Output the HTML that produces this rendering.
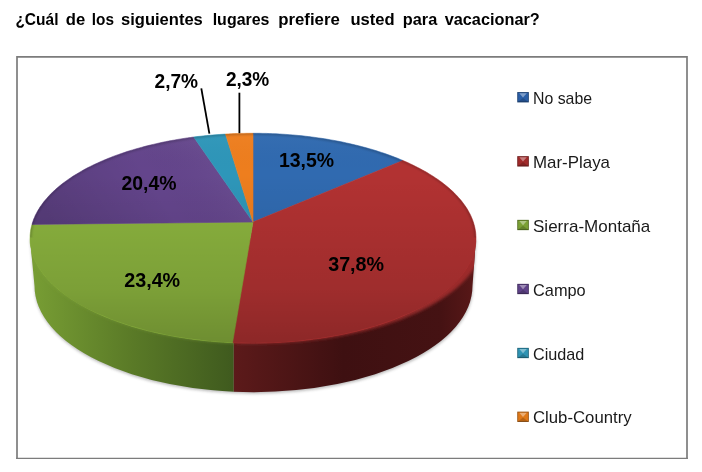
<!DOCTYPE html>
<html><head><meta charset="utf-8"><title>Chart</title>
<style>html,body{margin:0;padding:0;background:#fff}body{width:702px;height:472px;position:relative;overflow:hidden}</style></head>
<body>
<svg width="702" height="472" viewBox="0 0 702 472" style="position:absolute;left:0;top:0">
<defs>
<linearGradient id="gs" x1="30" y1="0" x2="234" y2="0" gradientUnits="userSpaceOnUse">
<stop offset="0" stop-color="#789e34"/><stop offset="0.5" stop-color="#5a7a27"/><stop offset="1" stop-color="#3f5a1e"/></linearGradient>
<linearGradient id="rs" x1="234" y1="0" x2="477" y2="0" gradientUnits="userSpaceOnUse">
<stop offset="0" stop-color="#5c1a1a"/><stop offset="0.45" stop-color="#3e1011"/><stop offset="0.85" stop-color="#451213"/><stop offset="1" stop-color="#5a1818"/></linearGradient>
<linearGradient id="lit" x1="0" y1="132" x2="0" y2="343" gradientUnits="userSpaceOnUse">
<stop offset="0" stop-color="#fff" stop-opacity="0.03"/><stop offset="0.2" stop-color="#000" stop-opacity="0"/><stop offset="0.75" stop-color="#000" stop-opacity="0.11"/><stop offset="1" stop-color="#000" stop-opacity="0.21"/></linearGradient>
<linearGradient id="bg" x1="0" y1="133" x2="0" y2="343" gradientUnits="userSpaceOnUse"><stop offset="0.2" stop-color="#84aa3b"/><stop offset="0.75" stop-color="#789b36"/><stop offset="1" stop-color="#6a882f"/></linearGradient>
<linearGradient id="br" x1="0" y1="133" x2="0" y2="343" gradientUnits="userSpaceOnUse"><stop offset="0.2" stop-color="#a93030"/><stop offset="0.75" stop-color="#9a2b2b"/><stop offset="1" stop-color="#872626"/></linearGradient>
<linearGradient id="pg" x1="210" y1="140" x2="60" y2="235" gradientUnits="userSpaceOnUse"><stop offset="0" stop-color="#fff" stop-opacity="0.04"/><stop offset="0.4" stop-color="#000" stop-opacity="0"/><stop offset="1" stop-color="#000" stop-opacity="0.13"/></linearGradient>
<clipPath id="cg"><rect x="0" y="0" width="233.8" height="472"/></clipPath>
<clipPath id="cr"><rect x="233.8" y="0" width="300" height="472"/></clipPath>
<clipPath id="cs"><path d="M30.0,238.2 L34.5,286.0 A219.0,106.2 0 0 0 472.5,286.0 L476.0,238.2 Z"/></clipPath>
<clipPath id="ct"><path d="M30.0,238.15 A223.0,104.85 0 1 0 476.0,238.15 A223.0,104.85 0 1 0 30.0,238.15 Z"/></clipPath>
<filter id="b1" x="-5%" y="-5%" width="110%" height="110%"><feGaussianBlur stdDeviation="1.1"/></filter>
<filter id="b3" x="-5%" y="-5%" width="110%" height="110%"><feGaussianBlur stdDeviation="1.7"/></filter>
<filter id="b2" x="-5%" y="-5%" width="110%" height="110%"><feGaussianBlur stdDeviation="1.6"/></filter>
<clipPath id="cb"><rect x="0" y="100" width="520" height="137.5"/></clipPath>
</defs>
<path d="M17,458.9 V56.9 H687 V458.9" fill="none" stroke="#7c7c7c" stroke-width="1.7"/>
<path d="M16.15,458.3 H687.85" fill="none" stroke="#7c7c7c" stroke-width="1.3"/>
<g opacity="0.35" filter="url(#b2)" transform="translate(0.3,1.5)"><path d="M30.0,238.2 L34.5,286.0 A219.0,106.2 0 0 0 472.5,286.0 L476.0,238.2 Z" fill="#333"/></g>
<path d="M30.0,238.2 L34.5,286.0 A219.0,106.2 0 0 0 472.5,286.0 L476.0,238.2 Z" fill="url(#gs)" clip-path="url(#cg)"/>
<path d="M30.0,238.2 L34.5,286.0 A219.0,106.2 0 0 0 472.5,286.0 L476.0,238.2 Z" fill="url(#rs)" clip-path="url(#cr)"/>
<g clip-path="url(#cs)">
<g clip-path="url(#cg)"><ellipse cx="256" cy="237.5" rx="228" ry="106.3" fill="url(#bg)" filter="url(#b3)"/></g>
<g clip-path="url(#cr)"><ellipse cx="256" cy="237.5" rx="228" ry="106.3" fill="url(#br)" filter="url(#b3)"/></g>
</g>
<path d="M253.0,222.0 L253.0,133.3 L256.3,133.3 L259.6,133.3 L262.9,133.4 L266.2,133.4 L269.5,133.6 L272.8,133.7 L276.1,133.8 L279.4,134.0 L282.6,134.2 L285.9,134.4 L289.2,134.7 L292.4,134.9 L295.7,135.2 L298.9,135.5 L302.2,135.8 L305.4,136.2 L308.6,136.6 L311.8,137.0 L315.0,137.4 L318.2,137.9 L321.4,138.3 L324.6,138.8 L327.7,139.3 L330.9,139.9 L334.0,140.4 L337.1,141.0 L340.2,141.6 L343.3,142.2 L346.3,142.9 L349.3,143.6 L352.4,144.3 L355.4,145.0 L358.4,145.7 L361.3,146.5 L364.3,147.3 L367.2,148.1 L370.1,148.9 L372.9,149.7 L375.8,150.6 L378.6,151.5 L381.4,152.4 L384.2,153.3 L387.0,154.3 L389.7,155.3 L392.4,156.3 L395.0,157.3 L397.7,158.3 L400.3,159.4 L402.9,160.5 Z" fill="#306ab0" stroke="#306ab0" stroke-width="0.6"/>
<path d="M253.0,222.0 L402.9,160.5 L405.4,161.6 L408.0,162.7 L410.5,163.9 L412.9,165.1 L415.3,166.3 L417.7,167.5 L420.1,168.7 L422.4,170.0 L424.7,171.2 L427.0,172.5 L429.2,173.9 L431.3,175.2 L433.4,176.5 L435.5,177.9 L437.6,179.3 L439.6,180.7 L441.5,182.1 L443.4,183.6 L445.3,185.1 L447.1,186.5 L448.9,188.0 L450.6,189.6 L452.3,191.1 L453.9,192.6 L455.4,194.2 L457.0,195.8 L458.4,197.4 L459.8,199.0 L461.2,200.6 L462.5,202.3 L463.7,203.9 L464.9,205.6 L466.1,207.3 L467.2,209.0 L468.2,210.7 L469.1,212.4 L470.0,214.1 L470.9,215.9 L471.6,217.6 L472.4,219.4 L473.0,221.2 L473.6,223.0 L474.1,224.8 L474.6,226.6 L475.0,228.4 L475.3,230.2 L475.6,232.0 L475.8,233.9 L475.9,235.7 L476.0,237.5 L475.9,239.4 L475.9,241.3 L475.7,243.1 L475.5,245.0 L475.2,246.9 L474.8,248.7 L474.4,250.6 L473.9,252.5 L473.3,254.3 L472.6,256.2 L471.9,258.1 L471.1,260.0 L470.2,261.8 L469.3,263.7 L468.2,265.5 L467.1,267.4 L465.9,269.3 L464.7,271.1 L463.3,272.9 L461.9,274.8 L460.4,276.6 L458.9,278.4 L457.2,280.2 L455.5,282.0 L453.7,283.8 L451.9,285.6 L449.9,287.3 L447.9,289.1 L445.8,290.8 L443.6,292.5 L441.4,294.2 L439.1,295.9 L436.7,297.6 L434.2,299.2 L431.7,300.9 L429.1,302.5 L426.4,304.1 L423.7,305.6 L420.9,307.2 L418.0,308.7 L415.0,310.2 L412.0,311.7 L408.9,313.1 L405.7,314.6 L402.5,316.0 L399.2,317.3 L395.9,318.7 L392.5,320.0 L389.0,321.3 L385.5,322.5 L381.9,323.7 L378.2,324.9 L374.5,326.1 L370.8,327.2 L367.0,328.3 L363.1,329.4 L359.2,330.4 L355.3,331.4 L351.3,332.3 L347.2,333.2 L343.1,334.1 L339.0,334.9 L334.8,335.7 L330.6,336.5 L326.4,337.2 L322.1,337.9 L317.8,338.5 L313.5,339.1 L309.1,339.7 L304.7,340.2 L300.3,340.7 L295.9,341.1 L291.4,341.5 L286.9,341.8 L282.4,342.1 L277.9,342.4 L273.4,342.6 L268.9,342.8 L264.4,342.9 L259.8,343.0 L255.3,343.0 L250.7,343.0 L246.2,343.0 L241.7,342.9 L237.1,342.8 L232.6,342.6 Z" fill="#b23232" stroke="#b23232" stroke-width="0.6"/>
<path d="M253.0,222.0 L232.6,342.6 L228.1,342.4 L223.7,342.1 L219.2,341.8 L214.8,341.5 L210.4,341.1 L206.0,340.7 L201.6,340.2 L197.2,339.7 L192.9,339.2 L188.6,338.6 L184.4,337.9 L180.1,337.3 L175.9,336.6 L171.7,335.8 L167.6,335.0 L163.5,334.2 L159.5,333.4 L155.4,332.5 L151.5,331.5 L147.6,330.6 L143.7,329.6 L139.8,328.5 L136.1,327.5 L132.3,326.4 L128.7,325.2 L125.0,324.0 L121.5,322.8 L118.0,321.6 L114.5,320.3 L111.1,319.1 L107.8,317.7 L104.5,316.4 L101.3,315.0 L98.1,313.6 L95.1,312.2 L92.0,310.7 L89.1,309.3 L86.2,307.8 L83.4,306.2 L80.6,304.7 L78.0,303.1 L75.3,301.5 L72.8,299.9 L70.3,298.3 L67.9,296.6 L65.6,295.0 L63.4,293.3 L61.2,291.6 L59.1,289.9 L57.0,288.2 L55.1,286.4 L53.2,284.7 L51.4,282.9 L49.6,281.2 L48.0,279.4 L46.4,277.6 L44.9,275.8 L43.4,274.0 L42.1,272.1 L40.8,270.3 L39.6,268.5 L38.4,266.7 L37.4,264.8 L36.4,263.0 L35.5,261.1 L34.6,259.3 L33.8,257.4 L33.1,255.6 L32.5,253.7 L31.9,251.9 L31.5,250.0 L31.1,248.1 L30.7,246.3 L30.4,244.4 L30.2,242.6 L30.1,240.8 L30.0,238.9 L30.1,237.1 L30.1,235.3 L30.3,233.4 L30.5,231.6 L30.7,229.8 L31.1,228.0 L31.5,226.2 L32.0,224.4 Z" fill="#8bb33e" stroke="#8bb33e" stroke-width="0.6"/>
<path d="M253.0,222.0 L32.0,224.4 L32.5,222.6 L33.1,220.9 L33.7,219.1 L34.5,217.4 L35.2,215.6 L36.1,213.9 L37.0,212.2 L37.9,210.5 L39.0,208.8 L40.0,207.1 L41.2,205.4 L42.4,203.8 L43.6,202.1 L44.9,200.5 L46.3,198.9 L47.7,197.3 L49.1,195.7 L50.6,194.1 L52.2,192.6 L53.8,191.1 L55.4,189.5 L57.1,188.0 L58.9,186.5 L60.7,185.1 L62.5,183.6 L64.4,182.2 L66.4,180.8 L68.3,179.4 L70.4,178.0 L72.4,176.6 L74.5,175.3 L76.7,174.0 L78.9,172.7 L81.1,171.4 L83.3,170.1 L85.6,168.8 L88.0,167.6 L90.4,166.4 L92.8,165.2 L95.2,164.1 L97.7,162.9 L100.2,161.8 L102.7,160.7 L105.3,159.6 L107.9,158.5 L110.5,157.5 L113.2,156.4 L115.9,155.4 L118.6,154.5 L121.3,153.5 L124.1,152.6 L126.9,151.6 L129.7,150.7 L132.6,149.9 L135.5,149.0 L138.4,148.2 L141.3,147.4 L144.2,146.6 L147.2,145.8 L150.2,145.1 L153.2,144.4 L156.2,143.7 L159.2,143.0 L162.3,142.3 L165.3,141.7 L168.4,141.1 L171.5,140.5 L174.7,140.0 L177.8,139.4 L181.0,138.9 L184.1,138.4 L187.3,137.9 L190.5,137.5 L193.7,137.0 Z" fill="#64458c" stroke="#64458c" stroke-width="0.6"/>
<path d="M253.0,222.0 L193.7,137.0 L196.8,136.6 L200.0,136.3 L203.1,135.9 L206.3,135.6 L209.5,135.3 L212.7,135.0 L215.9,134.7 L219.1,134.5 L222.3,134.3 L225.5,134.1 Z" fill="#2e96b9" stroke="#2e96b9" stroke-width="0.6"/>
<path d="M253.0,222.0 L225.5,134.1 L228.5,133.9 L231.6,133.7 L234.6,133.6 L237.7,133.5 L240.8,133.4 L243.8,133.4 L246.9,133.3 L249.9,133.3 L253.0,133.3 Z" fill="#ee7e1e" stroke="#ee7e1e" stroke-width="0.6"/>
<path d="M253.0,222.0 L32.0,224.4 L32.5,222.6 L33.1,220.9 L33.7,219.1 L34.5,217.4 L35.2,215.6 L36.1,213.9 L37.0,212.2 L37.9,210.5 L39.0,208.8 L40.0,207.1 L41.2,205.4 L42.4,203.8 L43.6,202.1 L44.9,200.5 L46.3,198.9 L47.7,197.3 L49.1,195.7 L50.6,194.1 L52.2,192.6 L53.8,191.1 L55.4,189.5 L57.1,188.0 L58.9,186.5 L60.7,185.1 L62.5,183.6 L64.4,182.2 L66.4,180.8 L68.3,179.4 L70.4,178.0 L72.4,176.6 L74.5,175.3 L76.7,174.0 L78.9,172.7 L81.1,171.4 L83.3,170.1 L85.6,168.8 L88.0,167.6 L90.4,166.4 L92.8,165.2 L95.2,164.1 L97.7,162.9 L100.2,161.8 L102.7,160.7 L105.3,159.6 L107.9,158.5 L110.5,157.5 L113.2,156.4 L115.9,155.4 L118.6,154.5 L121.3,153.5 L124.1,152.6 L126.9,151.6 L129.7,150.7 L132.6,149.9 L135.5,149.0 L138.4,148.2 L141.3,147.4 L144.2,146.6 L147.2,145.8 L150.2,145.1 L153.2,144.4 L156.2,143.7 L159.2,143.0 L162.3,142.3 L165.3,141.7 L168.4,141.1 L171.5,140.5 L174.7,140.0 L177.8,139.4 L181.0,138.9 L184.1,138.4 L187.3,137.9 L190.5,137.5 L193.7,137.0 Z" fill="url(#pg)"/>
<path d="M30.0,238.15 A223.0,104.85 0 1 0 476.0,238.15 A223.0,104.85 0 1 0 30.0,238.15 Z" fill="url(#lit)"/>
<g clip-path="url(#cb)"><g clip-path="url(#ct)"><path d="M30.0,238.15 A223.0,104.85 0 1 0 476.0,238.15 A223.0,104.85 0 1 0 30.0,238.15 Z" fill="none" stroke="#000" stroke-opacity="0.2" stroke-width="3" filter="url(#b1)"/></g></g>
<path d="M201.3,88.4 L209.4,133.7" stroke="#000" stroke-width="1.8" fill="none"/>
<path d="M239.4,92.7 L239.4,133.2" stroke="#000" stroke-width="1.8" fill="none"/>
<g font-family="'Liberation Sans', sans-serif">
<text y="25.4" font-size="16.8" font-weight="bold" fill="#000"><tspan x="15.4" textLength="43.1" lengthAdjust="spacingAndGlyphs">¿Cuál</tspan> <tspan x="65.8" textLength="19.4" lengthAdjust="spacingAndGlyphs">de</tspan> <tspan x="91.8" textLength="22.2" lengthAdjust="spacingAndGlyphs">los</tspan> <tspan x="121.0" textLength="81.8" lengthAdjust="spacingAndGlyphs">siguientes</tspan> <tspan x="212.7" textLength="56.8" lengthAdjust="spacingAndGlyphs">lugares</tspan> <tspan x="278.2" textLength="61.6" lengthAdjust="spacingAndGlyphs">prefiere</tspan> <tspan x="350.5" textLength="44.2" lengthAdjust="spacingAndGlyphs">usted</tspan> <tspan x="402.8" textLength="34.4" lengthAdjust="spacingAndGlyphs">para</tspan> <tspan x="444.7" textLength="95.1" lengthAdjust="spacingAndGlyphs">vacacionar?</tspan></text>
<text x="154.5" y="87.8" font-size="20" font-weight="bold" textLength="43.6" lengthAdjust="spacingAndGlyphs" fill="#000">2,7%</text>
<text x="225.9" y="86.1" font-size="20" font-weight="bold" textLength="43.4" lengthAdjust="spacingAndGlyphs" fill="#000">2,3%</text>
<text x="278.9" y="167.3" font-size="20" font-weight="bold" textLength="55.2" lengthAdjust="spacingAndGlyphs" fill="#000">13,5%</text>
<text x="328.2" y="270.6" font-size="20" font-weight="bold" textLength="55.9" lengthAdjust="spacingAndGlyphs" fill="#000">37,8%</text>
<text x="121.4" y="189.6" font-size="20" font-weight="bold" textLength="55.1" lengthAdjust="spacingAndGlyphs" fill="#000">20,4%</text>
<text x="124.2" y="286.8" font-size="20" font-weight="bold" textLength="56.0" lengthAdjust="spacingAndGlyphs" fill="#000">23,4%</text>
<text x="533.0" y="103.7" font-size="17.0" textLength="59.1" lengthAdjust="spacingAndGlyphs" fill="#1a1a1a">No sabe</text>
<text x="533.0" y="167.8" font-size="17.0" textLength="77.0" lengthAdjust="spacingAndGlyphs" fill="#1a1a1a">Mar-Playa</text>
<text x="533.0" y="231.5" font-size="17.0" textLength="117.3" lengthAdjust="spacingAndGlyphs" fill="#1a1a1a">Sierra-Montaña</text>
<text x="533.0" y="295.5" font-size="17.0" textLength="52.7" lengthAdjust="spacingAndGlyphs" fill="#1a1a1a">Campo</text>
<text x="533.0" y="359.5" font-size="17.0" textLength="51.3" lengthAdjust="spacingAndGlyphs" fill="#1a1a1a">Ciudad</text>
<text x="533.0" y="423.3" font-size="17.0" textLength="98.6" lengthAdjust="spacingAndGlyphs" fill="#1a1a1a">Club-Country</text>
</g>
<g><rect x="517.3" y="92.1" width="11.5" height="10.2" fill="#2a5ea6"/><path d="M519.3,93.2 L526.8,93.2 L523.0,97.4 Z" fill="#fff" fill-opacity="0.4"/><path d="M517.3,102.3 L528.8,102.3 L523.0,98.0 Z" fill="#000" fill-opacity="0.18"/><rect x="517.6999999999999" y="92.5" width="10.7" height="9.399999999999999" fill="none" stroke="#000" stroke-opacity="0.3" stroke-width="0.9"/></g>
<g><rect x="517.3" y="156.2" width="11.5" height="10.2" fill="#a02a2a"/><path d="M519.3,157.3 L526.8,157.3 L523.0,161.5 Z" fill="#fff" fill-opacity="0.4"/><path d="M517.3,166.4 L528.8,166.4 L523.0,162.1 Z" fill="#000" fill-opacity="0.18"/><rect x="517.6999999999999" y="156.6" width="10.7" height="9.399999999999999" fill="none" stroke="#000" stroke-opacity="0.3" stroke-width="0.9"/></g>
<g><rect x="517.3" y="219.9" width="11.5" height="10.2" fill="#7ba035"/><path d="M519.3,221.0 L526.8,221.0 L523.0,225.2 Z" fill="#fff" fill-opacity="0.4"/><path d="M517.3,230.1 L528.8,230.1 L523.0,225.8 Z" fill="#000" fill-opacity="0.18"/><rect x="517.6999999999999" y="220.3" width="10.7" height="9.399999999999999" fill="none" stroke="#000" stroke-opacity="0.3" stroke-width="0.9"/></g>
<g><rect x="517.3" y="283.9" width="11.5" height="10.2" fill="#5f4288"/><path d="M519.3,285.0 L526.8,285.0 L523.0,289.2 Z" fill="#fff" fill-opacity="0.4"/><path d="M517.3,294.1 L528.8,294.1 L523.0,289.8 Z" fill="#000" fill-opacity="0.18"/><rect x="517.6999999999999" y="284.3" width="10.7" height="9.399999999999999" fill="none" stroke="#000" stroke-opacity="0.3" stroke-width="0.9"/></g>
<g><rect x="517.3" y="347.9" width="11.5" height="10.2" fill="#2e93b3"/><path d="M519.3,349.0 L526.8,349.0 L523.0,353.2 Z" fill="#fff" fill-opacity="0.4"/><path d="M517.3,358.1 L528.8,358.1 L523.0,353.8 Z" fill="#000" fill-opacity="0.18"/><rect x="517.6999999999999" y="348.3" width="10.7" height="9.399999999999999" fill="none" stroke="#000" stroke-opacity="0.3" stroke-width="0.9"/></g>
<g><rect x="517.3" y="411.7" width="11.5" height="10.2" fill="#de7818"/><path d="M519.3,412.8 L526.8,412.8 L523.0,417.0 Z" fill="#fff" fill-opacity="0.4"/><path d="M517.3,421.9 L528.8,421.9 L523.0,417.6 Z" fill="#000" fill-opacity="0.18"/><rect x="517.6999999999999" y="412.1" width="10.7" height="9.399999999999999" fill="none" stroke="#000" stroke-opacity="0.3" stroke-width="0.9"/></g>
</svg>
</body></html>
